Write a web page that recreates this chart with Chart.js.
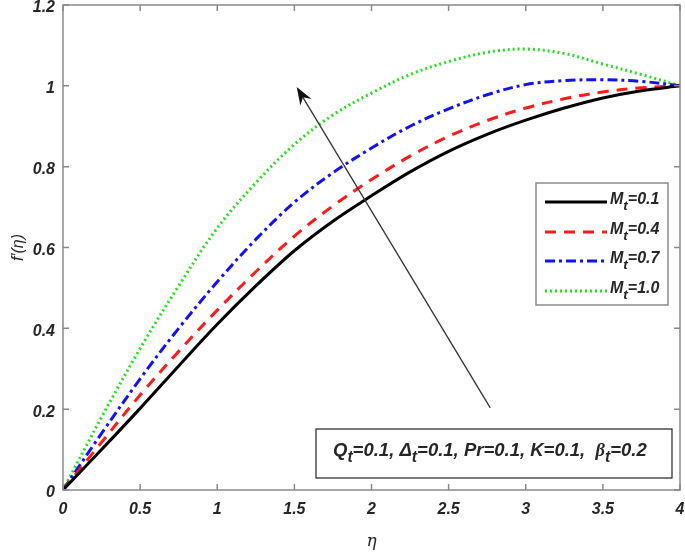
<!DOCTYPE html>
<html>
<head>
<meta charset="utf-8">
<script src="https://cdn.jsdelivr.net/npm/chart.js@4.4.1/dist/chart.umd.min.js"></script>
<style>
  html, body { margin: 0; padding: 0; background: #fff; }
  #wrap { width: 685px; height: 552px; }
</style>
</head>
<body>
<div id="wrap"><canvas id="velocityChart"></canvas></div>
<script>
// eta values and f'(eta)
const etaValues = [0, 0.25, 0.5, 0.75, 1, 1.25, 1.5, 1.75, 2, 2.25, 2.5, 2.75, 3, 3.25, 3.5, 3.75, 4];
const seriesM01 = [0, 0.100, 0.202, 0.307, 0.410, 0.505, 0.592, 0.665, 0.728, 0.787, 0.838, 0.880, 0.915, 0.945, 0.970, 0.988, 1.0];
const seriesM04 = [0, 0.118, 0.235, 0.343, 0.445, 0.540, 0.628, 0.703, 0.768, 0.826, 0.875, 0.914, 0.945, 0.968, 0.985, 0.995, 1.0];
const seriesM07 = [0, 0.140, 0.275, 0.400, 0.515, 0.620, 0.712, 0.785, 0.846, 0.900, 0.943, 0.978, 1.003, 1.013, 1.015, 1.011, 1.0];
const seriesM10 = [0, 0.180, 0.350, 0.505, 0.648, 0.760, 0.855, 0.928, 0.982, 1.028, 1.060, 1.083, 1.091, 1.080, 1.054, 1.028, 1.0];
const seriesNames = ['0.1', '0.4', '0.7', '1.0'];
const xTicks = [0, 0.5, 1, 1.5, 2, 2.5, 3, 3.5, 4];
const yTicks = [0, 0.2, 0.4, 0.6, 0.8, 1, 1.2];

const FONT = '"Liberation Sans", Arial, sans-serif';
const AXIS_GRAY = '#8a8a8a';
const TEXT_DARK = '#262626';

function toPoints(ys) {
    return etaValues.map((x, i) => ({ x: x, y: ys[i] }));
}

const datasets = [
    { label: seriesNames[0], data: toPoints(seriesM01), borderColor: '#000000', borderWidth: 3, borderDash: [] },
    { label: seriesNames[1], data: toPoints(seriesM04), borderColor: '#ff1a1a', borderWidth: 3, borderDash: [11, 8] },
    { label: seriesNames[2], data: toPoints(seriesM07), borderColor: '#1010ff', borderWidth: 3, borderDash: [10, 4, 3, 4] },
    { label: seriesNames[3], data: toPoints(seriesM10), borderColor: '#22e01a', borderWidth: 3, borderDash: [2, 3] }
];
datasets.forEach(d => {
    d.pointRadius = 0;
    d.fill = false;
    d.tension = 0.35;
});

// "M_t=0.1" style text with subscript
function drawSubText(ctx, parts, x, y, size) {
    let cx = x;
    parts.forEach(p => {
        const s = p.sub ? size * 0.85 : size;
        ctx.font = 'italic bold ' + s + 'px ' + (p.family || FONT);
        ctx.fillText(p.t, cx, p.sub ? y + size * 0.38 : y);
        cx += ctx.measureText(p.t).width;
    });
}

const tickText = v => String(Math.round(v * 10) / 10);

const framePlugin = {
    id: 'frame',
    afterDatasetsDraw(chart) {
        const ctx = chart.ctx;
        const a = chart.chartArea;
        const xs = chart.scales.x, ys = chart.scales.y;
        ctx.save();

        // box and inward ticks
        ctx.strokeStyle = AXIS_GRAY;
        ctx.lineWidth = 1.5;
        ctx.strokeRect(a.left, a.top, a.right - a.left, a.bottom - a.top);
        ctx.beginPath();
        xTicks.forEach(v => {
            const px = xs.getPixelForValue(v);
            ctx.moveTo(px, a.bottom); ctx.lineTo(px, a.bottom - 6);
            ctx.moveTo(px, a.top); ctx.lineTo(px, a.top + 6);
        });
        yTicks.forEach(v => {
            const py = ys.getPixelForValue(v);
            ctx.moveTo(a.left, py); ctx.lineTo(a.left + 6, py);
            ctx.moveTo(a.right, py); ctx.lineTo(a.right - 6, py);
        });
        ctx.stroke();

        // arrow showing increasing M_t
        const x0 = xs.getPixelForValue(2.77), y0 = ys.getPixelForValue(0.203);
        const x1 = xs.getPixelForValue(1.515), y1 = ys.getPixelForValue(0.997);
        const ang = Math.atan2(y1 - y0, x1 - x0);
        ctx.strokeStyle = '#333';
        ctx.fillStyle = '#111';
        ctx.lineWidth = 1.3;
        ctx.beginPath();
        ctx.moveTo(x0, y0);
        ctx.lineTo(x1 - 10 * Math.cos(ang), y1 - 10 * Math.sin(ang));
        ctx.stroke();
        ctx.beginPath();
        ctx.moveTo(x1, y1);
        ctx.lineTo(x1 - 18 * Math.cos(ang) + 6.5 * Math.sin(ang), y1 - 18 * Math.sin(ang) - 6.5 * Math.cos(ang));
        ctx.lineTo(x1 - 12 * Math.cos(ang), y1 - 12 * Math.sin(ang));
        ctx.lineTo(x1 - 18 * Math.cos(ang) - 6.5 * Math.sin(ang), y1 - 18 * Math.sin(ang) + 6.5 * Math.cos(ang));
        ctx.closePath();
        ctx.fill();

        // legend box
        const lx = 536, ly = 183, lw = 132, lh = 122;
        ctx.fillStyle = '#fff';
        ctx.fillRect(lx, ly, lw, lh);
        ctx.strokeStyle = AXIS_GRAY;
        ctx.lineWidth = 1.5;
        ctx.strokeRect(lx, ly, lw, lh);
        const rows = [202, 232, 261, 291];
        chart.data.datasets.forEach((d, i) => {
            ctx.strokeStyle = d.borderColor;
            ctx.lineWidth = d.borderWidth;
            ctx.setLineDash(d.borderDash);
            ctx.beginPath();
            ctx.moveTo(545, rows[i]);
            ctx.lineTo(607, rows[i]);
            ctx.stroke();
            ctx.setLineDash([]);
            ctx.fillStyle = TEXT_DARK;
            ctx.textBaseline = 'middle';
            ctx.textAlign = 'left';
            drawSubText(ctx, [{ t: 'M' }, { t: 't', sub: true }, { t: '=' + d.label }], 610, rows[i] - 2, 16);
        });

        // parameter box
        const bx = 316, by = 429, bw = 356, bh = 49;
        ctx.fillStyle = '#fff';
        ctx.fillRect(bx, by, bw, bh);
        ctx.strokeStyle = '#222';
        ctx.lineWidth = 1.2;
        ctx.strokeRect(bx, by, bw, bh);
        ctx.fillStyle = TEXT_DARK;
        ctx.textBaseline = 'middle';
        drawSubText(ctx, [
            { t: 'Q' }, { t: 't', sub: true }, { t: '=0.1, ' },
            { t: '\u0394' }, { t: 't', sub: true }, { t: '=0.1, Pr=0.1, K=0.1,  ' },
            { t: '\u03b2', family: '"Liberation Serif", serif' }, { t: 't', sub: true }, { t: '=0.2' }
        ], 333, 451, 18.5);

        ctx.restore();
    }
};

new Chart(document.getElementById('velocityChart'), {
    type: 'line',
    data: { datasets: datasets },
    options: {
        responsive: true,
        maintainAspectRatio: false,
        animation: false,
        layout: { padding: { left: 0, right: 5, top: 5, bottom: 0 } },
        plugins: {
            legend: { display: false },
            tooltip: { enabled: false }
        },
        scales: {
            x: {
                type: 'linear',
                min: 0,
                max: 4,
                afterBuildTicks: scale => { scale.ticks = xTicks.map(v => ({ value: v })); },
                afterFit: scale => {
                    scale.height = 62;
                    scale.paddingLeft = 0;
                    scale.paddingRight = 0;
                },
                grid: { display: false, drawTicks: false },
                border: { display: false },
                ticks: {
                    padding: 10,
                    color: TEXT_DARK,
                    callback: tickText,
                    font: { family: FONT, size: 16, weight: 'bold', style: 'italic' },
                    maxRotation: 0
                },
                title: {
                    display: true,
                    text: '\u03b7',
                    color: TEXT_DARK,
                    padding: { top: 6, bottom: 0 },
                    font: { family: '"DejaVu Serif", serif', size: 17, style: 'italic' }
                }
            },
            y: {
                min: 0,
                max: 1.2,
                afterBuildTicks: scale => { scale.ticks = yTicks.map(v => ({ value: v })); },
                afterFit: scale => {
                    scale.width = 63;
                    scale.paddingTop = 0;
                    scale.paddingBottom = 0;
                },
                grid: { display: false, drawTicks: false },
                border: { display: false },
                ticks: {
                    padding: 8,
                    labelOffset: 3,
                    color: TEXT_DARK,
                    callback: tickText,
                    font: { family: FONT, size: 16, weight: 'bold', style: 'italic' }
                },
                title: {
                    display: true,
                    text: "f\u2032(\u03b7)",
                    color: TEXT_DARK,
                    padding: { top: 9, bottom: 0 },
                    font: { family: FONT, size: 16, style: 'italic' }
                }
            }
        }
    },
    plugins: [framePlugin]
});
</script>
</body>
</html>
